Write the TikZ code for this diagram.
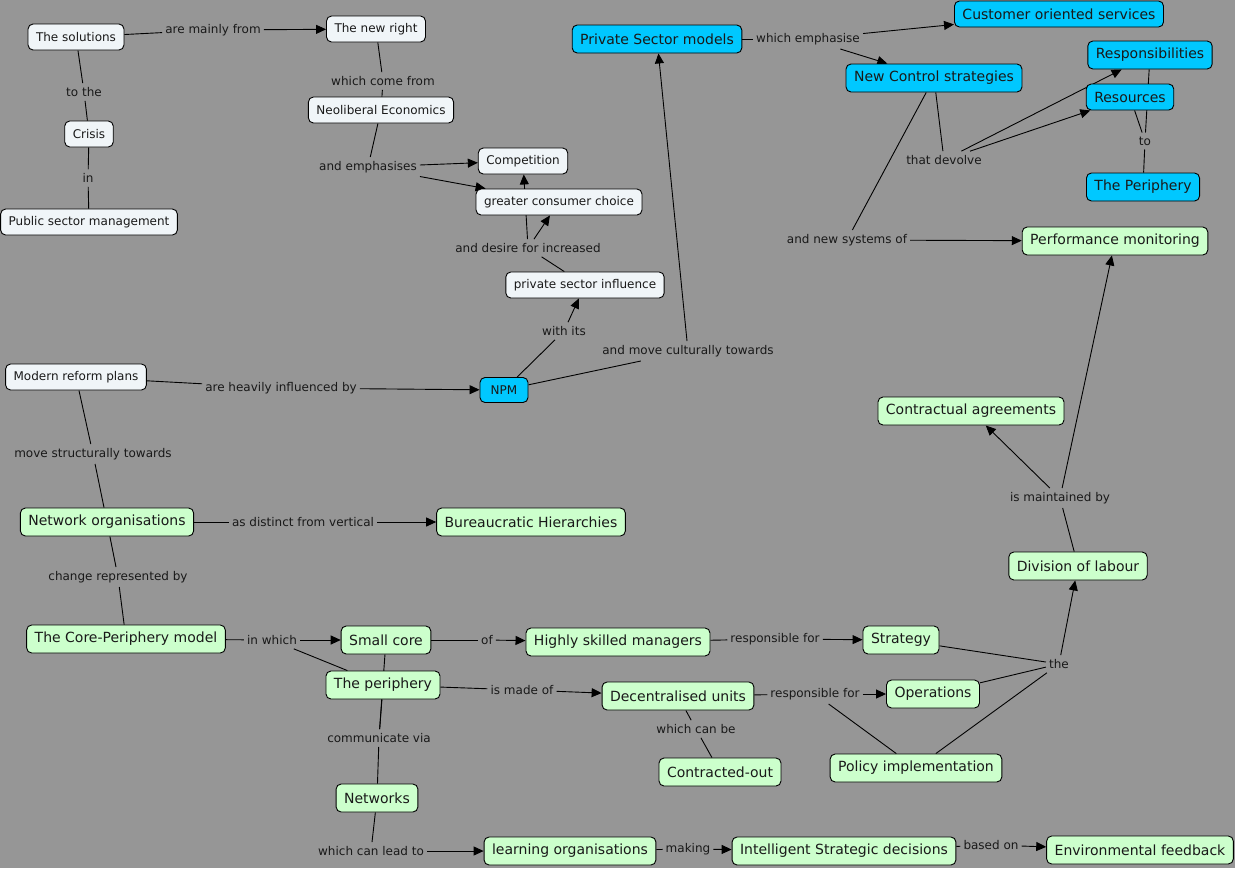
\documentclass[tikz,border=0pt]{standalone}
\usepackage{fontspec}
\setmainfont{DejaVu Sans}
\usetikzlibrary{arrows.meta,backgrounds}
\definecolor{mapgray}{RGB}{150,150,150}
\definecolor{mapwhite}{RGB}{240,245,248}
\definecolor{mapcyan}{RGB}{0,200,255}
\definecolor{mapgreen}{RGB}{204,255,204}
\definecolor{maptext}{RGB}{25,25,25}

\begin{document}
\begin{tikzpicture}[x=1pt, y=-1pt,
  concept/.style={draw=black, line width=0.9pt, rounded corners=5pt,
                  inner xsep=8pt, inner ysep=0pt, text=maptext},
  wconcept/.style={concept, fill=mapwhite, minimum height=26pt,
                   font=\fontsize{12}{14}\selectfont},
  cconcept/.style={concept, fill=mapcyan, minimum height=28pt,
                   font=\fontsize{14}{16}\selectfont},
  gconcept/.style={concept, fill=mapgreen, minimum height=28pt,
                   font=\fontsize{14}{16}\selectfont},
  phrase/.style={inner xsep=3pt, inner ysep=4pt, text=maptext,
                 font=\fontsize{12}{14}\selectfont},
  link/.style={line width=0.9pt},
  arrow/.style={link, -{Triangle[length=10pt,width=9pt]}}
]
\useasboundingbox (0,0) rectangle (1235,868);

%% White concepts
\node[wconcept] (sol)      at (76,37)   {The solutions};
\node[wconcept] (crisis)   at (89,134)  {Crisis};
\node[wconcept] (psmgmt)   at (89,222)  {Public sector management};
\node[wconcept] (newright) at (376,29)  {The new right};
\node[wconcept] (neolib)   at (381,110) {Neoliberal Economics};
\node[wconcept] (compet)   at (523,161) {Competition};
\node[wconcept] (choice)   at (559,202) {greater consumer choice};
\node[wconcept] (psinfl)   at (585,285) {private sector influence};
\node[wconcept] (reform)   at (76,377)  {Modern reform plans};

%% Cyan concepts
\node[cconcept, minimum height=25pt, minimum width=48pt,
      font=\fontsize{12}{14}\selectfont] (npm) at (504,390) {NPM};
\node[cconcept] (psmodels)  at (657,39)   {Private Sector models};
\node[cconcept, minimum height=26pt] (custserv) at (1059,14) {Customer oriented services};
\node[cconcept] (control)   at (934,78)   {New Control strategies};
\node[cconcept] (respons)   at (1150,55)  {Responsibilities};
\node[cconcept, minimum height=26pt] (resources) at (1130,97) {Resources};
\node[cconcept] (periph)    at (1143,187) {The Periphery};

%% Green concepts
\node[gconcept] (perfmon)    at (1115,241) {Performance monitoring};
\node[gconcept] (contract)   at (971,411)  {Contractual agreements};
\node[gconcept] (divlab)     at (1078,566) {Division of labour};
\node[gconcept] (netorg)     at (107,522)  {Network organisations};
\node[gconcept] (bureau)     at (531,522)  {Bureaucratic Hierarchies};
\node[gconcept] (coreper)    at (126,639)  {The Core-Periphery model};
\node[gconcept] (smallcore)  at (386,640)  {Small core};
\node[gconcept] (theperi)    at (383,685)  {The periphery};
\node[gconcept] (managers)   at (618,642)  {Highly skilled managers};
\node[gconcept] (strategy)   at (901,640)  {Strategy};
\node[gconcept] (decunits)   at (678,696)  {Decentralised units};
\node[gconcept] (operations) at (933,694)  {Operations};
\node[gconcept] (controut)   at (720,772)  {Contracted-out};
\node[gconcept] (policy)     at (916,768)  {Policy implementation};
\node[gconcept] (networks)   at (377,798)  {Networks};
\node[gconcept] (learning)   at (570,851)  {learning organisations};
\node[gconcept] (intelli)    at (844,851)  {Intelligent Strategic decisions};
\node[gconcept] (envfeed)    at (1140,850) {Environmental feedback};

%% Linking phrases
\node[phrase] (mainly)     at (213,30)   {are mainly from};
\node[phrase] (tothe)      at (84,92)    {to the};
\node[phrase] (incrisis)   at (88,178)   {in};
\node[phrase] (comefrom)   at (383,81)   {which come from};
\node[phrase] (emphas)     at (368,167)  {and emphasises};
\node[phrase] (desire)     at (528,248)  {and desire for increased};
\node[phrase] (withits)    at (564,331)  {with its};
\node[phrase] (culture)    at (688,351)  {and move culturally towards};
\node[phrase] (emphasise)  at (808,39)   {which emphasise};
\node[phrase] (devolve)    at (944,160)  {that devolve};
\node[phrase] (toperi)     at (1145,141) {to};
\node[phrase] (newsys)     at (847,240)  {and new systems of};
\node[phrase] (heavily)    at (281,388)  {are heavily influenced by};
\node[phrase] (structural) at (93,454)   {move structurally towards};
\node[phrase] (distinct)   at (303,522)  {as distinct from vertical};
\node[phrase] (represent)  at (118,577)  {change represented by};
\node[phrase] (inwhich)    at (272,640)  {in which};
\node[phrase] (of)         at (487,640)  {of};
\node[phrase] (madeof)     at (522,690)  {is made of};
\node[phrase] (respstrat)  at (775,639)  {responsible for};
\node[phrase] (respops)    at (815,694)  {responsible for};
\node[phrase] (canbe)      at (696,729)  {which can be};
\node[phrase] (the)        at (1059,664) {the};
\node[phrase] (maintain)   at (1060,498) {is maintained by};
\node[phrase] (commun)     at (379,738)  {communicate via};
\node[phrase] (leadto)     at (371,851)  {which can lead to};
\node[phrase] (making)     at (688,849)  {making};
\node[phrase] (basedon)    at (991,845)  {based on};

%% Connectors (behind the boxes)
\begin{scope}[on background layer]
  \fill[mapgray] (0,0) rectangle (1235,868);
  \foreach \a/\b in {sol/mainly, sol/tothe, tothe/crisis, crisis/incrisis,
      incrisis/psmgmt, newright/comefrom, comefrom/neolib, neolib/emphas,
      psinfl/desire, npm/withits, npm/culture, reform/heavily,
      reform/structural, structural/netorg, netorg/distinct,
      netorg/represent, represent/coreper, coreper/inwhich, inwhich/theperi,
      smallcore/of, smallcore/commun, theperi/commun, commun/networks,
      theperi/madeof, managers/respstrat, decunits/respops, respops/policy,
      decunits/canbe, canbe/controut, strategy/the, operations/the,
      policy/the, divlab/maintain, networks/leadto, learning/making,
      intelli/basedon, psmodels/emphasise, control/devolve, control/newsys,
      respons/toperi, resources/toperi, toperi/periph}
    \draw[link] (\a) -- (\b);
  \foreach \a/\b in {mainly/newright, emphas/compet, emphas/choice,
      desire/choice, desire/compet, withits/psinfl, culture/psmodels,
      heavily/npm, distinct/bureau, inwhich/smallcore, of/managers,
      madeof/decunits, respstrat/strategy, respops/operations, the/divlab,
      maintain/contract, maintain/perfmon, leadto/learning, making/intelli,
      basedon/envfeed, emphasise/custserv, emphasise/control,
      devolve/respons, devolve/resources, newsys/perfmon}
    \draw[arrow] (\a) -- (\b);
\end{scope}

\end{tikzpicture}
\end{document}
